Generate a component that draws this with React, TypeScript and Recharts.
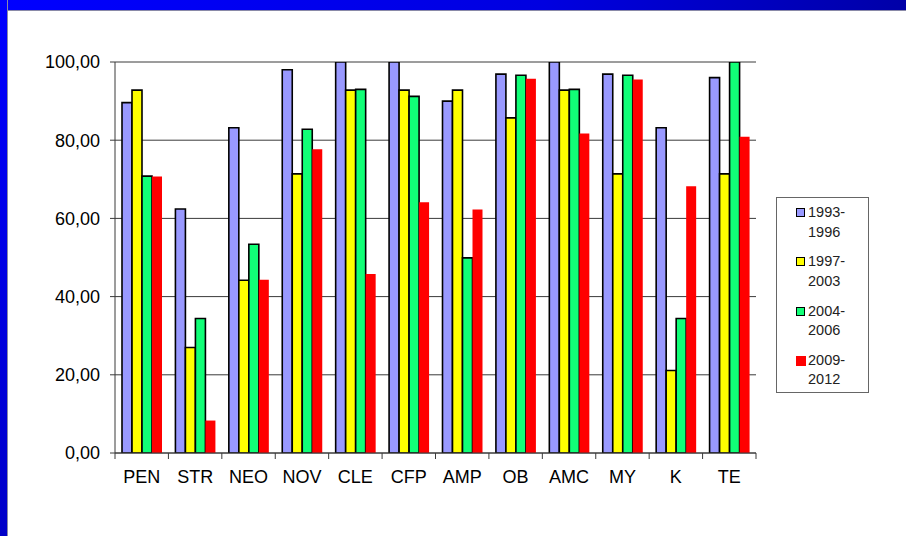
import { BarChart, Bar, XAxis, YAxis, CartesianGrid, Legend } from "recharts";

const categories = ["PEN", "STR", "NEO", "NOV", "CLE", "CFP", "AMP", "OB", "AMC", "MY", "K", "TE"];

const p1993 = [89.6, 62.4, 83.2, 98.0, 100, 100, 90.0, 96.9, 100, 96.9, 83.2, 96.0];
const p1997 = [92.8, 27.0, 44.2, 71.4, 92.8, 92.8, 92.8, 85.7, 92.8, 71.4, 21.1, 71.4];
const p2004 = [70.8, 34.4, 53.4, 82.8, 93.0, 91.2, 49.9, 96.6, 93.0, 96.6, 34.4, 100];
const p2009 = [70.7, 8.3, 44.3, 77.7, 45.8, 64.1, 62.3, 95.7, 81.7, 95.5, 68.2, 80.9];

const yTicks = [0, 20, 40, 60, 80, 100];

const series = [
    { key: "p1993", name: "1993-1996", color: "#9999FF", outline: true },
    { key: "p1997", name: "1997-2003", color: "#FFFF00", outline: true },
    { key: "p2004", name: "2004-2006", color: "#11FF77", outline: true },
    { key: "p2009", name: "2009-2012", color: "#FF0000", outline: false },
];

const data = categories.map((name, i) => ({
    name,
    p1993: p1993[i],
    p1997: p1997[i],
    p2004: p2004[i],
    p2009: p2009[i],
}));

const FONT = '"Liberation Sans", Arial, sans-serif';
const LINE = "#3a3a3a";

const fmt = (v: number) => v.toFixed(2).replace(".", ",");

// category label plus tick marks on the band edges
function CategoryTick(props: any) {
    const { x, y, payload, index, width, visibleTicksCount } = props;
    const band = width / (visibleTicksCount || categories.length);
    const left = x - band / 2;
    const top = y - 6;
    return (
        <g>
            <line x1={left} x2={left} y1={top} y2={y} stroke={LINE} />
            {index === visibleTicksCount - 1 && (
                <line x1={x + band / 2} x2={x + band / 2} y1={top} y2={y} stroke={LINE} />
            )}
            <text x={x} y={y + 24} textAnchor="middle" fontFamily={FONT} fontSize={18} fill="#000">
                {payload.value}
            </text>
        </g>
    );
}

function LegendBox() {
    return (
        <div
            style={{
                width: 93,
                height: 196,
                boxSizing: "border-box",
                border: "1px solid #666",
                background: "#fff",
                paddingTop: 5,
                fontFamily: FONT,
                fontSize: 14.5,
                lineHeight: "19.5px",
                color: "#222",
                textAlign: "left",
            }}
        >
            {series.map((s) => {
                const [a, b] = s.name.split("-");
                return (
                    <div key={s.key} style={{ position: "relative", height: 49.3, paddingLeft: 31 }}>
                        <span
                            style={{
                                position: "absolute",
                                left: 19,
                                top: 5,
                                width: s.outline ? 7 : 10,
                                height: s.outline ? 7 : 10,
                                background: s.color,
                                border: s.outline ? "1.5px solid #000" : "none",
                            }}
                        />
                        <div>{a}-</div>
                        <div>{b}</div>
                    </div>
                );
            })}
        </div>
    );
}

export default function App() {
    return (
        <div style={{ position: "absolute", left: 0, top: 0, width: 906, height: 536, background: "#fff", overflow: "hidden" }}>
            <div
                style={{
                    position: "absolute",
                    left: 0,
                    top: 0,
                    width: 906,
                    height: 10,
                    background: "linear-gradient(to right, #0000FF, #0000E0 60%, #0000A8)",
                    borderBottom: "1px solid #8a8aa8",
                }}
            />
            <div
                style={{
                    position: "absolute",
                    left: 0,
                    top: 0,
                    width: 7,
                    height: 536,
                    background: "linear-gradient(to bottom, #0000FF, #0000C8)",
                    borderRight: "1px solid #8a8aa8",
                }}
            />
            <div style={{ position: "absolute", left: 0, top: 0 }}>
                <BarChart
                    width={906}
                    height={536}
                    data={data}
                    margin={{ top: 62, right: 150, bottom: 43, left: 0 }}
                    barGap={0}
                    barSize={10}
                >
                    <CartesianGrid vertical={false} stroke={LINE} strokeOpacity={1} />
                    <XAxis
                        dataKey="name"
                        height={40}
                        axisLine={{ stroke: LINE }}
                        tickLine={false}
                        tickSize={6}
                        tickMargin={0}
                        interval={0}
                        tick={<CategoryTick />}
                    />
                    <YAxis
                        width={115}
                        domain={[0, 100]}
                        ticks={yTicks}
                        tickFormatter={fmt}
                        axisLine={{ stroke: LINE }}
                        tickLine={{ stroke: LINE }}
                        tickSize={5}
                        tickMargin={10}
                        tick={{ fontFamily: FONT, fontSize: 18, fill: "#000" }}
                        allowDataOverflow
                    />
                    <Legend
                        layout="vertical"
                        align="center"
                        verticalAlign="middle"
                        wrapperStyle={{ left: 776, top: 197, width: 93, height: 196 }}
                        content={() => <LegendBox />}
                    />
                    {series.map((s) => (
                        <Bar
                            key={s.key}
                            dataKey={s.key}
                            name={s.name}
                            fill={s.color}
                            stroke={s.outline ? "#000" : "none"}
                            strokeWidth={1.6}
                            isAnimationActive={false}
                        />
                    ))}
                </BarChart>
            </div>
        </div>
    );
}
